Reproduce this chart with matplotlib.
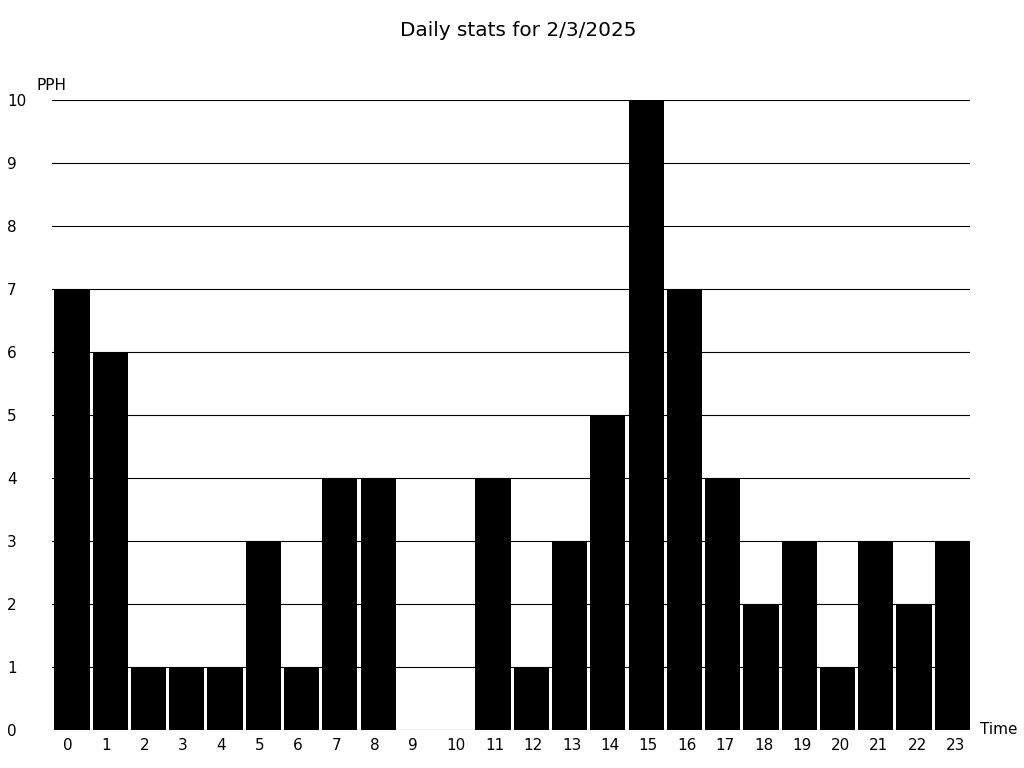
import matplotlib
matplotlib.use("Agg")
import matplotlib.pyplot as plt

hours = list(range(24))
pph = [7, 6, 1, 1, 1, 3, 1, 4, 4, 0, 0, 4, 1, 3, 5, 10, 7, 4, 2, 3, 1, 3, 2, 3]

fig = plt.figure(figsize=(10.24, 7.68), dpi=100)
ax = fig.add_axes([52 / 1024, 38 / 768, 918 / 1024, 630 / 768])

ax.set_axisbelow(True)
ax.grid(axis="y", color="black", linewidth=0.8)
ax.bar(hours, pph, width=0.92, color="black")

ax.set_xlim(-0.52, 23.46)
ax.set_ylim(0, 10)
ax.set_yticks(range(11))
# labels sit a little left of the bar centres, left aligned
ax.set_xticks([h * 1.003 - 0.24 for h in hours], [str(h) for h in hours])
ax.tick_params(axis="y", length=0, pad=32.4, labelsize=11)
ax.tick_params(axis="x", length=0, pad=6, labelsize=11)
for lab in ax.get_yticklabels():
    lab.set_horizontalalignment("left")
for lab in ax.get_xticklabels():
    lab.set_horizontalalignment("left")
for s in ax.spines.values():
    s.set_visible(False)

fig.text(37 / 1024, 1 - 85 / 768, "PPH", ha="left", va="center", fontsize=11)
fig.text(980 / 1024, 1 - 730 / 768, "Time", ha="left", va="center", fontsize=11)
fig.text(518 / 1024, 1 - 30 / 768, "Daily stats for 2/3/2025", ha="center", va="center", fontsize=14.4)

fig.savefig("out.png", dpi=100)
